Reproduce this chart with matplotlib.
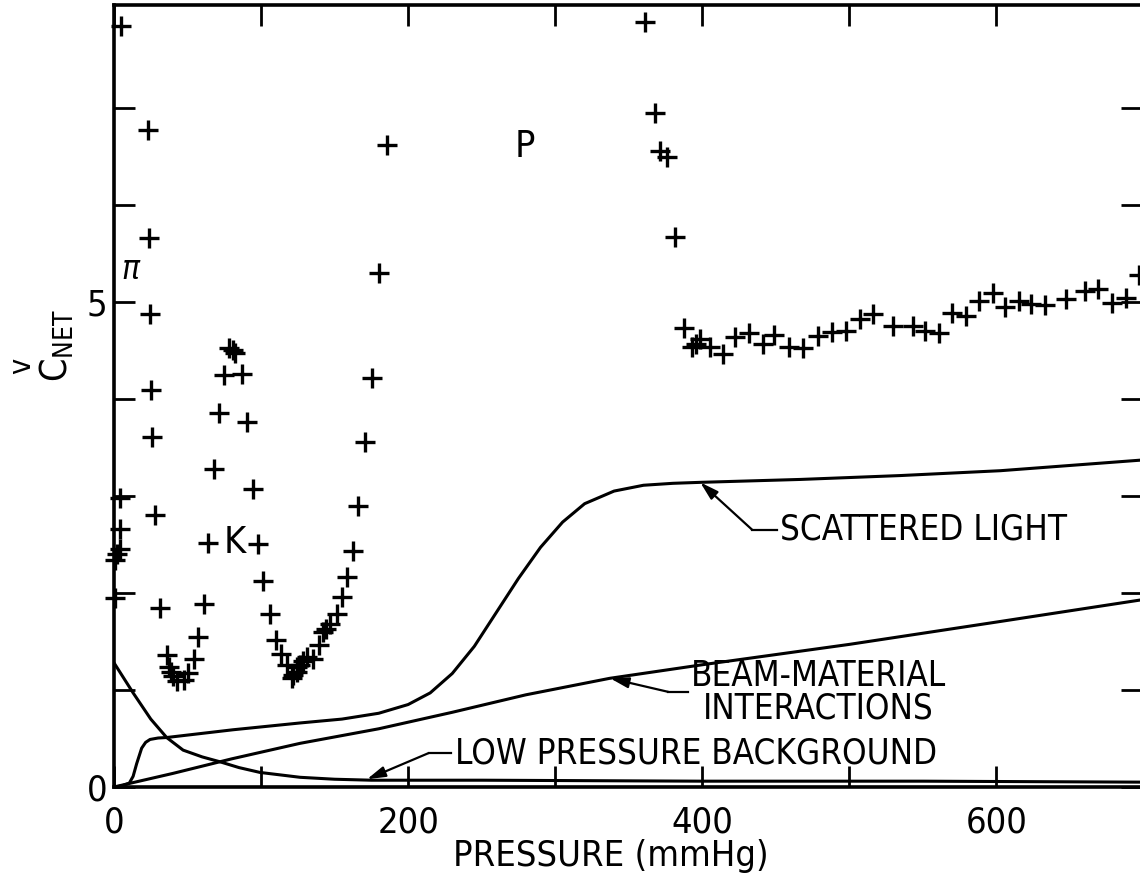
import numpy as np
import matplotlib
matplotlib.use("Agg")
import matplotlib.pyplot as plt

plt.rcParams['font.family'] = ['DejaVu Sans']
plt.rcParams['font.stretch'] = 'condensed'

# measured net signal vs pressure
pressure = [0.7, 0.7, 2.0, 4.1, 4.1, 4.1, 4.5, 22.9, 23.8, 24.5, 25.2, 25.6, 27.9,
            31.3, 35.8, 37.4, 38.8, 40.4, 43.1, 47.6, 50.6, 54.4, 57.4, 61.2, 64.2,
            68.2, 71.7, 74.8, 78.0, 80.7, 82.0, 86.9, 90.3, 94.3, 98.2, 101.6, 106.1,
            110.0, 113.6, 117.5, 120.9, 122.0, 124.3, 124.3, 126.5, 128.8, 131.1,
            135.6, 139.5, 142.4, 144.2, 146.9, 151.5, 155.3, 158.7, 162.8, 166.2,
            170.7, 175.7, 180.5, 185.5, 361.0, 367.7, 371.4, 376.2, 381.6, 387.8,
            393.0, 395.9, 398.2, 405.0, 414.0, 422.4, 432.0, 441.0, 449.0, 458.7,
            468.3, 478.5, 488.2, 497.7, 507.0, 516.0, 529.5, 543.0, 551.7, 560.8,
            569.8, 579.4, 588.4, 597.5, 605.7, 615.2, 623.6, 633.3, 647.6, 660.0,
            669.2, 678.7, 688.2, 696.8]
signal = [1.95, 2.34, 2.40, 2.45, 2.66, 2.98, 7.84, 6.77, 5.66, 4.88, 4.09, 3.61, 2.80,
          1.84, 1.36, 1.24, 1.19, 1.14, 1.09, 1.10, 1.17, 1.32, 1.55, 1.89, 2.52,
          3.28, 3.85, 4.25, 4.52, 4.50, 4.47, 4.26, 3.76, 3.07, 2.50, 2.12, 1.78,
          1.51, 1.37, 1.26, 1.12, 1.15, 1.19, 1.24, 1.26, 1.30, 1.34,
          1.32, 1.46, 1.60, 1.63, 1.68, 1.78, 1.96, 2.16, 2.43, 2.90,
          3.56, 4.22, 5.30, 6.62, 7.88, 6.95, 6.55, 6.49, 5.67, 4.73,
          4.53, 4.57, 4.62, 4.54, 4.46, 4.64, 4.68, 4.57, 4.66, 4.53,
          4.52, 4.65, 4.69, 4.70, 4.82, 4.88, 4.75, 4.75, 4.70, 4.68,
          4.89, 4.85, 5.01, 5.09, 4.95, 5.01, 4.98, 4.97, 5.03, 5.11,
          5.13, 4.99, 5.04, 5.28]

# background components
scat_p = [0, 5, 10.4, 13, 15.4, 18.8, 21.5, 24.5, 30, 35.8, 81, 126.5, 155, 180,
          200, 215, 230, 245, 260, 275, 290, 305, 320, 340, 360, 380, 398.6,
          466.7, 534.7, 602.7, 699]
scat_v = [0, 0.01, 0.04, 0.11, 0.24, 0.40, 0.46, 0.49, 0.505, 0.51, 0.59, 0.66,
          0.70, 0.76, 0.85, 0.97, 1.17, 1.45, 1.80, 2.15, 2.47, 2.73, 2.92, 3.05,
          3.11, 3.13, 3.14, 3.17, 3.21, 3.26, 3.37]

beam_p = [0, 40, 80, 126.5, 180, 230, 280, 337, 400, 500, 600, 699]
beam_v = [0, 0.14, 0.29, 0.45, 0.60, 0.77, 0.95, 1.12, 1.26, 1.47, 1.70, 1.93]

low_p = [0, 13, 25, 35.8, 47, 60, 72, 85, 99.3, 126.5, 150, 175, 250, 400, 550, 699]
low_v = [1.28, 0.97, 0.70, 0.51, 0.38, 0.31, 0.26, 0.20, 0.15, 0.10, 0.08, 0.07,
         0.07, 0.06, 0.06, 0.05]

fig = plt.figure(figsize=(11.4, 8.76), dpi=100)
ax = fig.add_axes([0.1, 0.1016, 0.9018, 0.8927])

ax.plot(scat_p, scat_v, color='black', lw=2.2, solid_joinstyle='round')
ax.plot(beam_p, beam_v, color='black', lw=2.2, solid_joinstyle='round')
ax.plot(low_p, low_v, color='black', lw=2.2, solid_joinstyle='round')
ax.plot(pressure, signal, linestyle='none', marker='+', color='black',
        markersize=14, markeredgewidth=2.4, clip_on=False)

ax.set_xlim(0, 699)
ax.set_ylim(0, 8.06)

ax.set_xticks(np.arange(0, 700, 100))
ax.set_xticklabels(['0', '', '200', '', '400', '', '600'])
ax.set_yticks(np.arange(0, 8, 1))
ax.set_yticklabels(['0', '', '', '', '', '5', '', ''])
ax.tick_params(axis='both', direction='in', length=15, width=2, labelsize=26,
               top=True, right=True)
ax.tick_params(axis='x', pad=13)
ax.tick_params(axis='y', pad=5)
for side in ['left', 'bottom', 'top']:
    ax.spines[side].set_linewidth(2.6)
ax.spines['right'].set_visible(False)

ax.set_xlabel('PRESSURE (mmHg)', fontsize=26)
ax.xaxis.set_label_coords(0.483, -0.066)
ax.set_ylabel(r'$\mathregular{C_{NET}}$', fontsize=27)
ax.yaxis.set_label_coords(-0.056, 0.565)
ax.yaxis.label.set_va('center')
# check mark over the C of the axis label
fig.text(0.019, 1 - 366 / 876, 'v', fontsize=22, rotation=90,
         ha='center', va='center')

# curve labels
ax.text(12, 5.33, r'$\pi$', fontsize=24, ha='center', va='center')
ax.text(81.9, 2.51, 'K', fontsize=27, ha='center', va='center')
ax.text(279, 6.60, 'P', fontsize=27, ha='center', va='center')

arrow = dict(arrowstyle='-|>,head_length=1.1,head_width=0.32', color='black',
             lw=1.6, shrinkA=0, shrinkB=0)
label_kw = dict(fontsize=25, va='center', ha='left')

ax.annotate('', xy=(398.6, 3.14), xytext=(434, 2.65), arrowprops=arrow)
ax.plot([434, 451], [2.65, 2.65], color='black', lw=1.6)
ax.text(453, 2.65, 'SCATTERED LIGHT', **label_kw)

ax.annotate('', xy=(337.4, 1.12), xytext=(377, 0.98), arrowprops=arrow)
ax.plot([377, 390], [0.98, 0.98], color='black', lw=1.6)
ax.text(392, 0.98, 'BEAM-MATERIAL\nINTERACTIONS', fontsize=25, va='center',
        ha='left', multialignment='center', linespacing=0.95)

ax.annotate('', xy=(172, 0.08), xytext=(214, 0.35), arrowprops=arrow)
ax.plot([214, 229], [0.35, 0.35], color='black', lw=1.6)
ax.text(232, 0.35, 'LOW PRESSURE BACKGROUND', **label_kw)

fig.savefig('out.png', dpi=100)
